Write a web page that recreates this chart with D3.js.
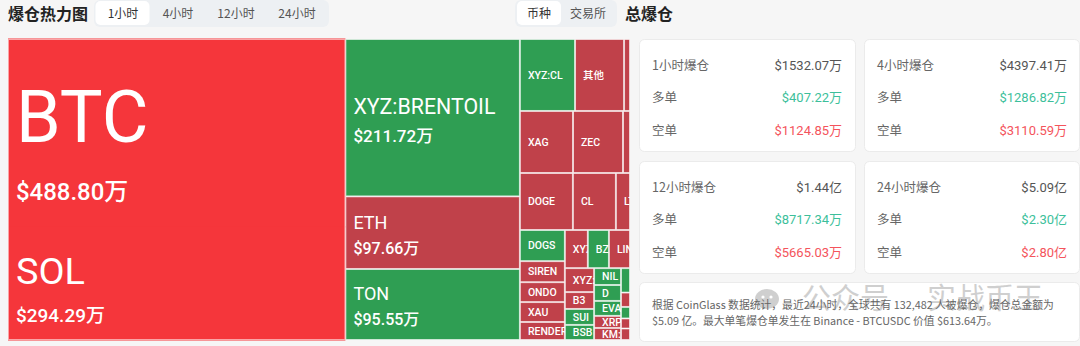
<!DOCTYPE html>
<html><head><meta charset="utf-8">
<script src="https://cdn.jsdelivr.net/npm/d3@7"></script>
<style>
html,body{margin:0;padding:0;background:#f6f6f6;}
svg{display:block;font-family:"Noto Sans CJK SC","Noto Sans",sans-serif;}
</style></head><body>
<svg id="c" width="1080" height="346"></svg>
<script>
// ---------- data ----------
const tabLabels = ["1小时","4小时","12小时","24小时"];
const toggleLabels = ["币种","交易所"];

const col1Names = ["BTC","SOL"];
const col1Values = [488.80, 294.29];
const col1Kinds = ["downStrong","downStrong"];

const col2Names = ["XYZ:BRENTOIL","ETH","TON"];
const col2Values = [211.72, 97.66, 95.55];
const col2Kinds = ["up","down","up"];

const rowANames = ["XYZ:CL","其他","HYPE"];
const rowAValues = [30.6, 27.2, 3.3];
const rowAKinds = ["up","down","down"];

const rowBNames = ["XAG","ZEC","ASTER"];
const rowBValues = [25.4, 23.9, 3.35];
const rowBKinds = ["down","down","down"];

const rowCNames = ["DOGE","CL","LTC"];
const rowCValues = [23.3, 18.9, 6.2];
const rowCKinds = ["down","down","down"];

const lowLeftNames = ["DOGS","SIREN","ONDO","XAU","RENDER"];
const lowLeftValues = [10.8, 7.3, 6.9, 6.9, 6.25];
const lowLeftKinds = ["up","down","down","down","down"];

const lowTopNames = ["XYZ:GOLD","BZ","LINK"];
const lowTopValues = [6.75, 6.2, 6.2];
const lowTopKinds = ["down","up","down"];

const lowColANames = ["XYZ:SILVER","B3","SUI","BSB"];
const lowColAValues = [5.4, 3.8, 3.6, 3.4];
const lowColAKinds = ["down","down","up","up"];

const lowColBNames = ["NIL","D","EVAA","XRP","KM:US500"];
const lowColBValues = [3.5, 3.3, 3.1, 2.5, 2.5];
const lowColBKinds = ["up","up","up","down","down"];

const lowColCNames = ["ENA","IP","AVAX","WLD","PUMP"];
const lowColCValues = [1.7, 1.0, 0.8, 0.7, 0.8];
const lowColCKinds = ["up","down","up","down","down"];

const cardTitles = ["1小时爆仓","4小时爆仓","12小时爆仓","24小时爆仓"];
const cardTotals = ["$1532.07万","$4397.41万","$1.44亿","$5.09亿"];
const cardLongs = ["$407.22万","$1286.82万","$8717.34万","$2.30亿"];
const cardShorts = ["$1124.85万","$3110.59万","$5665.03万","$2.80亿"];
const sideLabels = ["多单","空单"];
const summaryLines = [
  "根据 CoinGlass 数据统计，最近24小时，全球共有 132,482 人被爆仓，爆仓总金额为",
  "$5.09 亿。最大单笔爆仓单发生在 Binance - BTCUSDC 价值 $613.64万。"
];
const watermarkParts = ["公众号","实战币王"];

// ---------- setup ----------
const svg = d3.select("#c");
const fontNum = "Roboto, 'Noto Sans CJK SC', sans-serif";
svg.append("rect").attr("width",1080).attr("height",346).attr("fill","#f6f6f6");

// header left
svg.append("text").attr("x",8).attr("y",19.5).attr("font-size",16).attr("font-weight",700)
  .attr("fill","#222").text("爆仓热力图");
svg.append("rect").attr("x",94).attr("y",0).attr("width",235).attr("height",27).attr("rx",6).attr("fill","#edf0f3");
svg.append("rect").attr("x",95.5).attr("y",1).attr("width",54).attr("height",24).attr("rx",5).attr("fill","#fff");
const tabPos = [123,178,236,297];
svg.selectAll("text.tab").data(tabLabels).join("text").attr("class","tab")
  .attr("x",(d,i)=>tabPos[i]).attr("y",17.5).attr("text-anchor","middle")
  .attr("font-size",12).attr("fill",(d,i)=>i===0?"#333":"#555").text(d=>d);

svg.append("rect").attr("x",515).attr("y",0).attr("width",102).attr("height",27).attr("rx",6).attr("fill","#edf0f3");
svg.append("rect").attr("x",517).attr("y",1).attr("width",44).attr("height",24).attr("rx",5).attr("fill","#fff");
const togPos = [539,588];
svg.selectAll("text.tog").data(toggleLabels).join("text").attr("class","tog")
  .attr("x",(d,i)=>togPos[i]).attr("y",17.5).attr("text-anchor","middle")
  .attr("font-size",12).attr("fill",(d,i)=>i===0?"#333":"#555").text(d=>d);
svg.append("text").attr("x",625).attr("y",19.5).attr("font-size",16).attr("font-weight",700)
  .attr("fill","#222").text("总爆仓");

// ---------- treemap ----------
function leaves(names, values, kinds){
  return names.map((n,i)=>({name:n, value:values[i], kind:kinds[i]}));
}
const tree = {split:"x", children:[
  {split:"y", merged:true, children: leaves(col1Names,col1Values,col1Kinds)},
  {split:"y", children: leaves(col2Names,col2Values,col2Kinds)},
  {split:"y", children:[
    {split:"x", children: leaves(rowANames,rowAValues,rowAKinds)},
    {split:"x", children: leaves(rowBNames,rowBValues,rowBKinds)},
    {split:"x", children: leaves(rowCNames,rowCValues,rowCKinds)},
    {split:"x", children:[
      {split:"y", children: leaves(lowLeftNames,lowLeftValues,lowLeftKinds)},
      {split:"y", children:[
        {split:"x", children: leaves(lowTopNames,lowTopValues,lowTopKinds)},
        {split:"x", children:[
          {split:"y", children: leaves(lowColANames,lowColAValues,lowColAKinds)},
          {split:"y", children: leaves(lowColBNames,lowColBValues,lowColBKinds)},
          {split:"y", children: leaves(lowColCNames,lowColCValues,lowColCKinds)}
        ]}
      ]}
    ]}
  ]}
]};

const TX = 8, TY = 39, TW = 622, TH = 301;
const root = d3.hierarchy(tree).sum(d => d.children ? 0 : d.value);
d3.treemap().size([TW,TH]).round(false)
  .tile((node,x0,y0,x1,y1) => (node.data.split==="x" ? d3.treemapDice : d3.treemapSlice)(node,x0,y0,x1,y1))(root);

const color = d3.scaleOrdinal().domain(["up","down","downStrong"]).range(["#2f9e53","#c0414a","#f5363b"]);
const nameSize = d3.scaleLinear().domain([30,95,210,295,490]).range([10.5,18,21,38,72]).clamp(true);
const valueSize = d3.scaleLinear().domain([95,210,295,490]).range([16,17,19,24]).clamp(true);
const fmt = v => "$" + v.toFixed(2) + "万";

const tg = svg.append("g").attr("transform",`translate(${TX},${TY})`);
const defs = svg.append("defs");
const lv = root.leaves();
lv.forEach((d,i)=>{
  defs.append("clipPath").attr("id","cp"+i).append("rect")
    .attr("x",d.x0).attr("y",d.y0).attr("width",d.x1-d.x0).attr("height",d.y1-d.y0);
});
const stroke = "rgba(255,255,255,0.55)";
const plain = lv.filter(d=>!d.parent.data.merged);
const merged = lv.filter(d=>d.parent.data.merged);
tg.selectAll("rect.mcell").data(merged).join("rect").attr("class","mcell")
  .attr("x",d=>d.x0).attr("y",d=>d.y0-0.5)
  .attr("width",d=>d.x1-d.x0).attr("height",d=>d.y1-d.y0+1)
  .attr("fill",d=>color(d.data.kind));
tg.selectAll("rect.cell").data(plain).join("rect").attr("class","cell")
  .attr("x",d=>d.x0+0.5).attr("y",d=>d.y0+0.5)
  .attr("width",d=>Math.max(0,d.x1-d.x0-1)).attr("height",d=>Math.max(0,d.y1-d.y0-1))
  .attr("fill",d=>color(d.data.kind))
  .attr("stroke",stroke).attr("stroke-width",1);
root.descendants().filter(d=>d.data.merged).forEach(g=>{
  tg.append("rect").attr("x",g.x0+0.5).attr("y",g.y0+0.5)
    .attr("width",g.x1-g.x0-1).attr("height",g.y1-g.y0-1)
    .attr("fill","none").attr("stroke",stroke);
});

const lg = tg.selectAll("g.lab").data(lv).join("g").attr("class","lab")
  .attr("clip-path",(d,i)=>`url(#cp${i})`);
lg.each(function(d){
  const g = d3.select(this);
  const w = d.x1-d.x0, h = d.y1-d.y0;
  if (w < 10 || h < 10) return;
  const f1 = nameSize(d.data.value);
  const cy = (d.y0+d.y1)/2;
  const x = d.x0 + 8;
  const big = w > 100;
  if (big) {
    const f2 = valueSize(d.data.value);
    const cap = f1*0.71, dv = 0.62*f1 + 14;
    const center = cy + Math.max(0,f1-18)*0.2 + 2;
    const base = center - (dv - cap)/2;
    g.append("text").attr("x",x).attr("y",base).attr("font-family",fontNum)
      .attr("font-size",f1).attr("fill","#fff").text(d.data.name);
    g.append("text").attr("x",x).attr("y",base+dv).attr("font-family",fontNum)
      .attr("font-size",f2).attr("font-weight",500).attr("fill","#fff").text(fmt(d.data.value));
  } else {
    const t = g.append("text").attr("x",x).attr("y",cy + f1*0.36).attr("font-family",fontNum)
      .attr("font-size",f1).attr("font-weight",500).attr("fill","#fff").text(d.data.name);
    // drop characters that would start outside the cell (rest is clipped)
    const full = d.data.name;
    let n = full.length;
    while (n > 1 && t.node().getSubStringLength(0, n-1) > w - 9) n--;
    if (n < full.length) t.text(full.slice(0, n));
  }
});

// ---------- cards ----------
const cardX = [639, 864], cardY = [39, 161], CH = 112;
cardTitles.forEach((t,i)=>{
  const cx = cardX[i%2], cy = cardY[Math.floor(i/2)];
  const w = i%2 ? 215 : 216;
  svg.append("rect").attr("x",cx+0.5).attr("y",cy+0.5).attr("width",w).attr("height",CH)
    .attr("rx",5).attr("fill","#fff").attr("stroke","#ebebeb");
  const rows = [[t, cardTotals[i], "#555"],[sideLabels[0], cardLongs[i], "#3dbf9b"],[sideLabels[1], cardShorts[i], "#f4545c"]];
  const ry = [26, 58, 91];
  rows.forEach((r,j)=>{
    svg.append("text").attr("x",cx+13).attr("y",cy+ry[j]+4.5).attr("font-size",12.5)
      .attr("fill","#666").text(r[0]);
    svg.append("text").attr("x",cx+203).attr("y",cy+ry[j]+4.5).attr("text-anchor","end")
      .attr("font-family",fontNum).attr("font-size",13).attr("fill",r[2]).text(r[1]);
  });
});
svg.append("rect").attr("x",639.5).attr("y",282.5).attr("width",440).attr("height",59)
  .attr("rx",5).attr("fill","#fff").attr("stroke","#ebebeb");
// watermark (behind summary text)
const wm = svg.append("g").attr("opacity",0.4);
wm.append("ellipse").attr("cx",767).attr("cy",299).attr("rx",12).attr("ry",10).attr("fill","#8a8a8a");
wm.append("circle").attr("cx",763).attr("cy",297).attr("r",1.6).attr("fill","#fff");
wm.append("circle").attr("cx",771).attr("cy",297).attr("r",1.6).attr("fill","#fff");
wm.append("text").attr("x",802).attr("y",309).attr("font-size",29).attr("fill","#8a8a8a").text(watermarkParts[0]);
wm.append("text").attr("x",927).attr("y",309).attr("font-size",29).attr("fill","#8a8a8a").text(watermarkParts[1]);
summaryLines.forEach((s,i)=>{
  svg.append("text").attr("x",652).attr("y",309+i*15.5).attr("font-size",10.8)
    .attr("fill","#666").text(s);
});
</script>
</body></html>
